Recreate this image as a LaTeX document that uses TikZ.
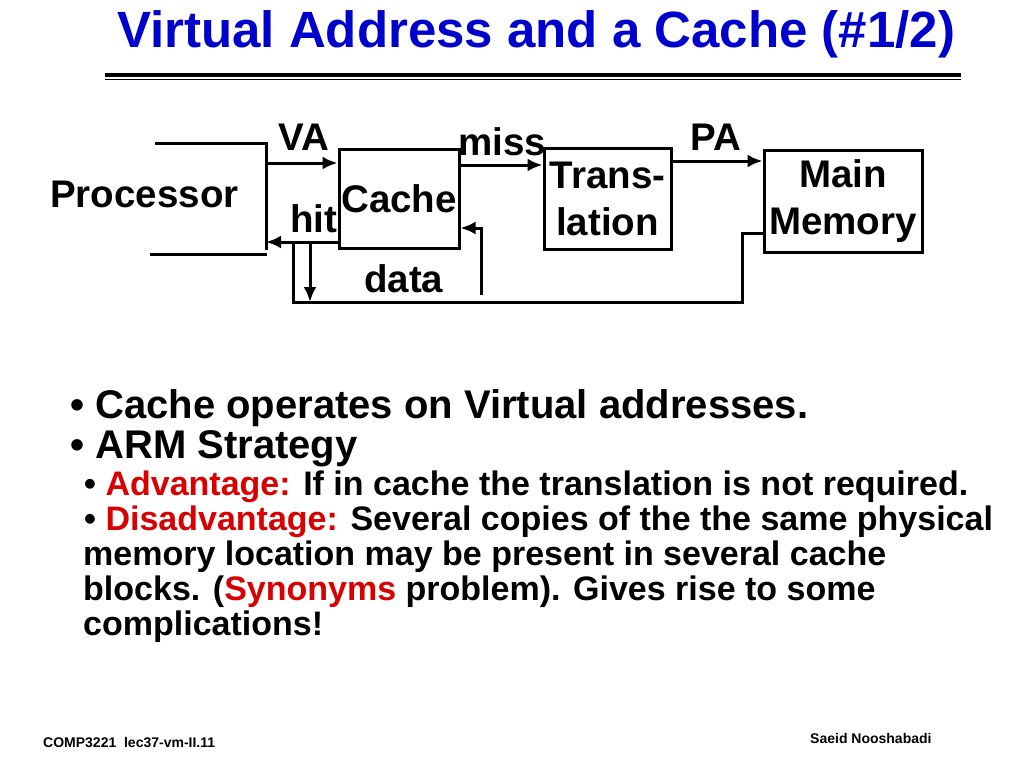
\documentclass[tikz,border=0pt]{standalone}
\usepackage{fontspec}
\setmainfont{Liberation Sans}
\usepackage{tikz}
\usetikzlibrary{arrows.meta,positioning}

\definecolor{titleblue}{RGB}{0,0,204}
\definecolor{hotred}{RGB}{216,0,0}

\tikzset{
  unit/.style={draw, line width=3pt, font=\fontsize{38.5}{47}\selectfont\bfseries, align=center, inner sep=0pt},
  lbl/.style={font=\fontsize{38.5}{47}\selectfont\bfseries, inner sep=0pt, anchor=base west},
  wire/.style={line width=3pt},
  sig/.style={wire, -{Latex[length=15pt,width=13pt]}},
  bigitem/.style={font=\fontsize{40}{41}\selectfont\bfseries, inner sep=0pt, anchor=base west},
  subitem/.style={font=\fontsize{34}{36}\selectfont\bfseries, inner sep=0pt, anchor=base west},
  foot/.style={font=\fontsize{14}{16}\selectfont\bfseries, inner sep=0pt, anchor=base west}
}

\begin{document}
\begin{tikzpicture}[x=1pt,y=-1pt]
            \useasboundingbox[fill=white] (0,0) rectangle (1024,768);
            % title and rule
            \node[anchor=base west, inner sep=0pt, text=titleblue, font=\fontsize{51}{56}\selectfont\bfseries] (title) at (117,48) {Virtual Address and a Cache (\#1/2)};
            \draw[line width=3.5pt] (105,75.2) -- (961,75.2);
            \draw[line width=1.5pt] (105,79.5) -- (961,79.5);

            % blocks
            \node[lbl] (proc) at (50,207) {Processor};
            \node[unit, minimum width=120pt, minimum height=99pt] (cache) at (399,198.5) {Cache};
            \node[unit, minimum width=127pt, minimum height=101pt] (trans) at (607.5,198.5) {Trans-\\lation};
            \node[unit, minimum width=158pt, minimum height=102pt] (mem) at (843,201) {Main\\Memory};

            % processor outline
            \coordinate (pne) at (266,143);
            \coordinate (pse) at (266,250);
            \draw[wire] (155,143) -- (pne) -- (pse);
            \draw[wire] (150,254) -- (267,254);

            % labels
            \node[lbl] (va) at (278,150) {VA};
            \node[lbl] (miss) at (458,155) {miss};
            \node[lbl] (pa) at (690,150) {PA};
            \node[lbl] (hit) at (290,232) {hit};
            \node[lbl] (data) at (364,292) {data};

            % connectors
            \coordinate (vaout) at (266,163);
            \coordinate (missout) at (459,165);
            \coordinate (paout) at (671,161);
            \coordinate (hitin) at (339,242);
            \coordinate (memout) at (764,233);
            \coordinate (loopl) at (293,302);
            \coordinate (loopr) at (742,302);
            \coordinate (tapin) at (310,242);
            \coordinate (datain) at (481,295);
            \draw[sig] (vaout) -- (vaout -| cache.west);
            \draw[sig] (missout) -- (missout -| trans.west);
            \draw[sig] (paout) -- (paout -| mem.west);
            \draw[sig] (hitin) -- (hitin -| pse);
            \draw[wire] (memout) -| (loopr) -- (loopl) -- (loopl |- hitin);
            \draw[sig] (tapin) -- (tapin |- loopl);
            \draw[sig] (datain) |- (cache.east |- 0,228);

            % bullets
            \node[bigitem] (b1) at (70,418) {\textbullet\ Cache operates on Virtual addresses.};
            \node[bigitem] (b2) at (70,458) {\textbullet\ ARM Strategy};
            \node[subitem] (s1) at (84,495) {\textbullet\ \textcolor{hotred}{Advantage:} If in cache the translation is not required.};
            \node[subitem] (s2) at (84,530) {\textbullet\ \textcolor{hotred}{Disadvantage:} Several copies of the the same physical};
            \node[subitem] (s3) at (83,565) {memory location may be present in several cache};
            \node[subitem] (s4) at (83,600) {blocks. (\textcolor{hotred}{Synonyms} problem). Gives rise to some};
            \node[subitem] (s5) at (83,635) {complications!};

            % footer
            \node[foot] (course) at (43,747) {COMP3221\ \ lec37-vm-II.11};
            \node[foot] (author) at (810,743) {Saeid Nooshabadi};
        \end{tikzpicture}
\end{document}
